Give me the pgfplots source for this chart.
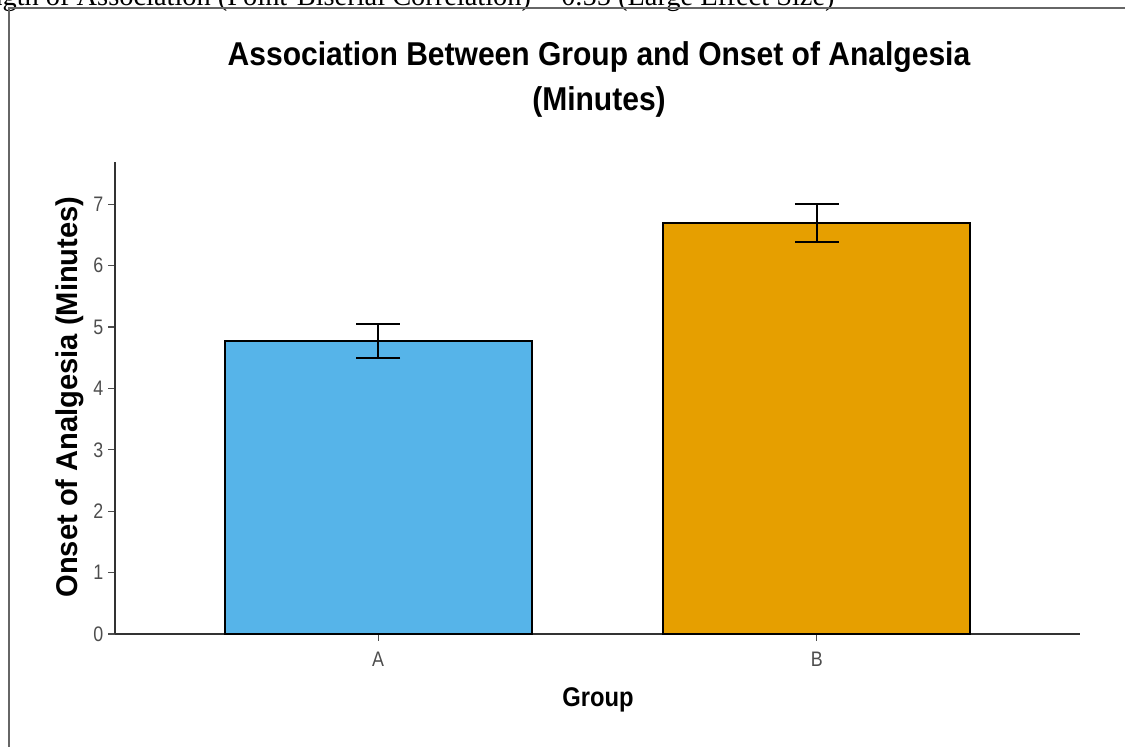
\documentclass[border=0pt]{standalone}
\usepackage{pgfplots}
\pgfplotsset{compat=1.18}
\usepackage{fontspec}
\setmainfont{Liberation Sans}
\newfontfamily\seriffont{Liberation Serif}
\definecolor{barA}{HTML}{56B4E9}
\definecolor{barB}{HTML}{E69F00}
\definecolor{axisgray}{HTML}{333333}
\definecolor{tickgray}{HTML}{4D4D4D}
\begin{document}
\begin{tikzpicture}
\useasboundingbox (0,0) rectangle (562.5pt,373.5pt);
\node[anchor=base east, font=\seriffont\fontsize{14.2}{16}\selectfont, inner sep=0] at (417.5pt,370.5pt) {Strength of Association (Point-Biserial Correlation) = 0.55 (Large Effect Size)};
\draw[line width=0.7pt, black!60] (4.5pt,0) -- (4.5pt,369.5pt) -- (562.5pt,369.5pt);
\begin{axis}[at={(57.5pt,56.5pt)}, anchor=south west,
  scale only axis, width=482.5pt, height=236pt,
  xmin=0.4, xmax=2.6, ymin=0, ymax=7.69,
  axis lines=left, axis line style={-, line width=1pt, axisgray},
  xtick={1,2}, xticklabels={A,B}, ytick={0,1,2,3,4,5,6,7},
  tick align=outside, major tick length=3.5pt,
  tick style={line width=0.6pt, tickgray},
  ticklabel style={font=\fontsize{10.5}{12}\selectfont, text=tickgray, xscale=0.85, inner sep=0pt},
  yticklabel style={anchor=east, xshift=-2.5pt},
  xticklabel style={anchor=north, yshift=-5.5pt},
  /pgf/number format/assume math mode=true,
  clip=false]
\addplot[ybar, bar width=0.7, fill=barA, draw=black, line width=1pt,
  error bars/.cd, y dir=both, y explicit,
  error bar style={line width=1pt, black},
  error mark options={rotate=90, mark size=11pt, line width=1pt, black}]
  coordinates {(1,4.77) +- (0,0.28)};
\addplot[ybar, bar width=0.7, fill=barB, draw=black, line width=1pt,
  error bars/.cd, y dir=both, y explicit,
  error bar style={line width=1pt, black},
  error mark options={rotate=90, mark size=11pt, line width=1pt, black}]
  coordinates {(2,6.69) +- (0,0.31)};
\end{axis}
\node[anchor=base, xscale=0.91, inner sep=0, font=\bfseries\fontsize{16.5}{20}\selectfont] at (299.5pt,340.5pt) {Association Between Group and Onset of Analgesia};
\node[anchor=base, xscale=0.91, inner sep=0, font=\bfseries\fontsize{16.5}{20}\selectfont] at (299.5pt,318pt) {(Minutes)};
\node[anchor=base, xscale=0.88, inner sep=0, font=\bfseries\fontsize{13.5}{16}\selectfont] at (299pt,20pt) {Group};
\node[anchor=base, rotate=90, xscale=0.97, inner sep=0, font=\bfseries\fontsize{15}{18}\selectfont] at (38.5pt,175pt) {Onset of Analgesia (Minutes)};
\end{tikzpicture}
\end{document}
